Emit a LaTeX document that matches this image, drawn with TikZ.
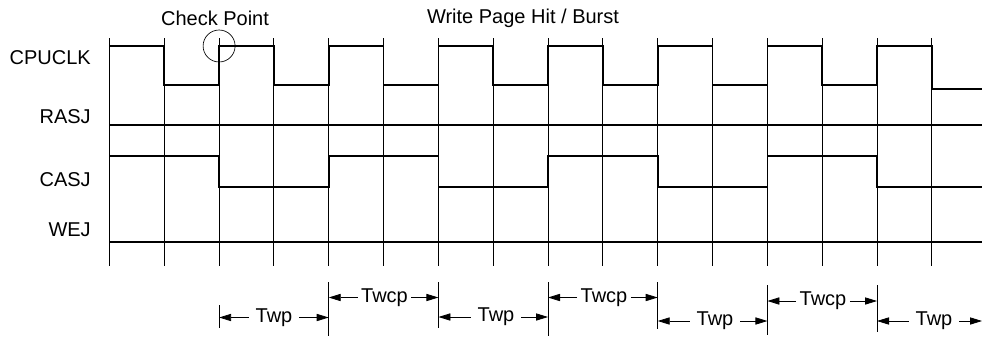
\documentclass[tikz,border=0pt]{standalone}
\usepackage{fontspec}
\setmainfont{Liberation Sans}
\usetikzlibrary{arrows.meta}

\tikzset{
  gridline/.style={line width=0.6pt},
  signal/.style={line width=1.2pt},
  txt/.style={inner sep=0pt,font=\fontsize{15}{18}\selectfont},
  siglabel/.style={txt,anchor=east},
  twplabel/.style={txt,inner xsep=5pt},
  twcplabel/.style={txt,inner xsep=2.5pt},
  dimarrow/.style={line width=0.6pt,-{Triangle[length=9pt,width=5.4pt]}},
}

\begin{document}
\begin{tikzpicture}[x=0.75pt,y=0.75pt,yscale=-1,xscale=1]
	\useasboundingbox (0,0) rectangle (982,336);

	%Vertical grid lines, one every half clock period
	\foreach \i in {0,...,15}
		\draw [gridline] ({109.4+54.83*\i},38) -- ({109.4+54.83*\i},266) ;

	% Text Node
	\node (cpuclk) [siglabel] at (91,57.5) {CPUCLK};
	\node (rasj) [siglabel] at (91,117) {RASJ};
	\node (casj) [siglabel] at (91,179.5) {CASJ};
	\node (wej) [siglabel] at (91,229.5) {WEJ};
	\node (checkpt) [txt] at (215,18) {Check Point};
	\node (pagehit) [txt] at (523,18) {Write Page Hit / Burst};

	%Signal: CPUCLK
	\draw [signal] (109.4,85) -- (109.4,46) -- (164.2,46) -- (164.2,85) -- (219.1,85) -- (219.1,46) -- (273.9,46) -- (273.9,85) -- (328.7,85) -- (328.7,46) -- (383.6,46) -- (383.6,85) -- (438.4,85) -- (438.4,46) -- (493.2,46) -- (493.2,85) -- (548,85) -- (548,46) -- (602.9,46) -- (602.9,85) -- (657.7,85) -- (657.7,46) -- (712.5,46) -- (712.5,85) -- (767.4,85) -- (767.4,46) -- (822.2,46) -- (822.2,85) -- (877,85) -- (877,46) -- (931.9,46) -- (931.9,89) -- (982,89) ;
	%Signal: RASJ
	\draw [signal] (109.4,125) -- (982,125) ;
	%Signal: CASJ
	\draw [signal] (109.4,156) -- (219.1,156) -- (219.1,187) -- (328.7,187) -- (328.7,156) -- (438.4,156) -- (438.4,187) -- (548,187) -- (548,156) -- (657.7,156) -- (657.7,187) -- (767.4,187) -- (767.4,156) -- (877,156) -- (877,187) -- (982,187) ;
	%Signal: WEJ
	\draw [signal] (109.4,242) -- (982,242) ;

	%Shape: Circle round the check point
	\draw [line width=0.5pt] (219.1,46) circle [radius=16] ;

	%Extension lines for the timing marks
	\coordinate (x2) at (219.1,305) ;
	\coordinate (x4) at (328.7,282) ;
	\coordinate (x6) at (438.4,282) ;
	\coordinate (x8) at (548,282) ;
	\coordinate (x10) at (657.7,282) ;
	\coordinate (x12) at (767.4,285) ;
	\coordinate (x14) at (877,285) ;
	\coordinate (xend) at (982,321) ;
	\draw [gridline] (x2) -- ++(0,23) ;
	\draw [gridline] (x4) -- ++(0,54) ;
	\draw [gridline] (x6) -- ++(0,46) ;
	\draw [gridline] (x8) -- ++(0,54) ;
	\draw [gridline] (x10) -- ++(0,46.5) ;
	\draw [gridline] (x12) -- ++(0,50) ;
	\draw [gridline] (x14) -- ++(0,47) ;

	% Text Node
	\node (twp1) [twplabel] at (274,317.5) {Twp};
	\node (twcp1) [twcplabel] at (384.5,297.5) {Twcp};
	\node (twp2) [twplabel] at (496,317) {Twp};
	\node (twcp2) [twcplabel] at (604,297.5) {Twcp};
	\node (twp3) [twplabel] at (715,321) {Twp};
	\node (twcp3) [twcplabel] at (823,301) {Twcp};
	\node (twp4) [twplabel] at (934,321) {Twp};

	%Dimension arrows
	\draw [dimarrow] (twp1.west) -- (twp1.west -| x2) ;
	\draw [dimarrow] (twp1.east) -- (twp1.east -| x4) ;
	\draw [dimarrow] (twcp1.west) -- (twcp1.west -| x4) ;
	\draw [dimarrow] (twcp1.east) -- (twcp1.east -| x6) ;
	\draw [dimarrow] (twp2.west) -- (twp2.west -| x6) ;
	\draw [dimarrow] (twp2.east) -- (twp2.east -| x8) ;
	\draw [dimarrow] (twcp2.west) -- (twcp2.west -| x8) ;
	\draw [dimarrow] (twcp2.east) -- (twcp2.east -| x10) ;
	\draw [dimarrow] (twp3.west) -- (twp3.west -| x10) ;
	\draw [dimarrow] (twp3.east) -- (twp3.east -| x12) ;
	\draw [dimarrow] (twcp3.west) -- (twcp3.west -| x12) ;
	\draw [dimarrow] (twcp3.east) -- (twcp3.east -| x14) ;
	\draw [dimarrow] (twp4.west) -- (twp4.west -| x14) ;
	\draw [dimarrow] (twp4.east) -- (xend) ;

\end{tikzpicture}
\end{document}
